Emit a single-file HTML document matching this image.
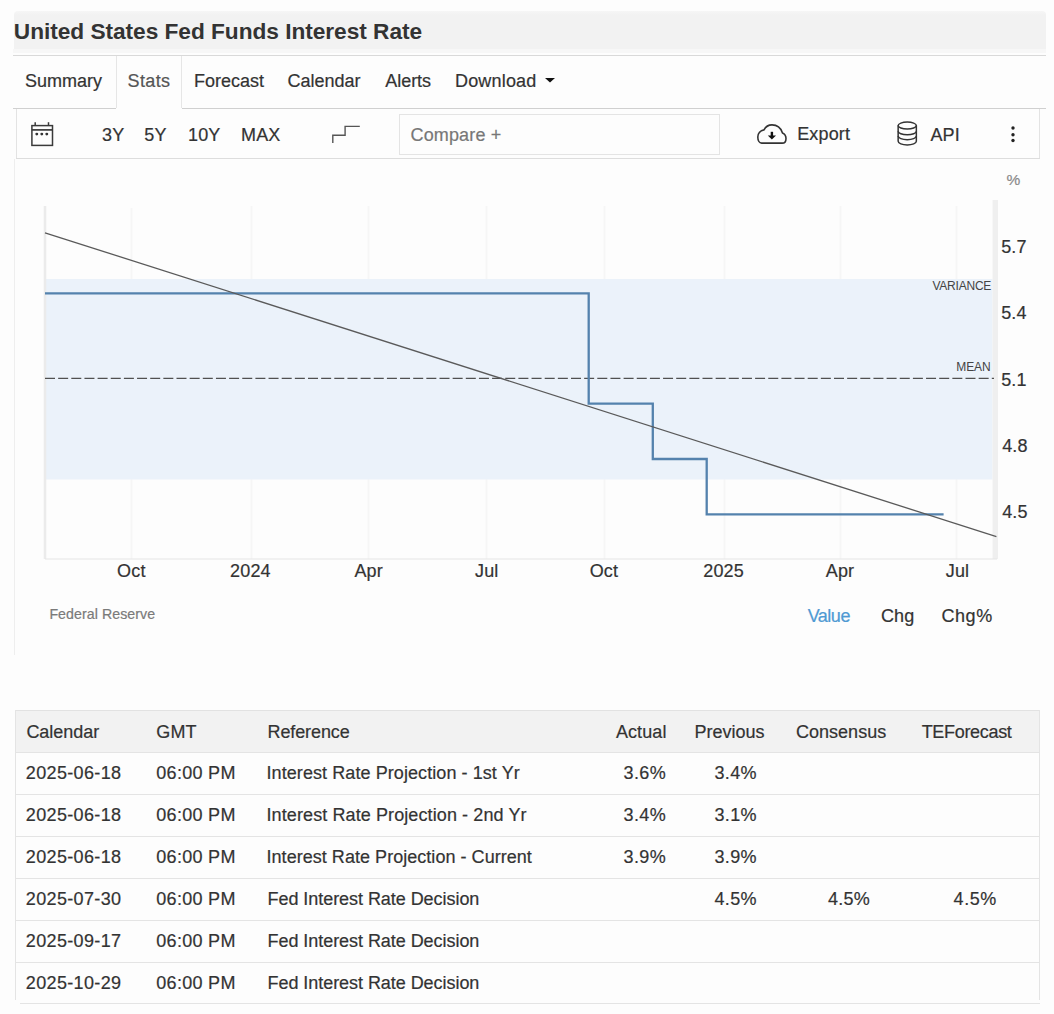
<!DOCTYPE html>
<html><head><meta charset="utf-8">
<style>
html,body{margin:0;padding:0;background:#fdfdfd;width:1054px;height:1014px;overflow:hidden;position:relative;font-family:"Liberation Sans",sans-serif;color:#333}
.a{position:absolute;white-space:nowrap;line-height:1;-webkit-text-stroke:0.2px currentColor}
.t{font-size:17.7px;color:#2b2b2b}
#titlebar{position:absolute;left:13.5px;top:10.5px;width:1032px;height:38.5px;background:linear-gradient(#f6f6f6,#f2f2f2 4px);border-radius:4px 4px 0 0}
#title{left:14px;top:22px;font-size:22.5px;font-weight:bold;color:#333}
.hl{position:absolute;height:1px;background:#dddddd}
.vl{position:absolute;width:1px;background:#e3e3e3}
</style></head><body>
<div id="titlebar"></div>
<div class="a" style="left:13px;top:49px;width:1033px;height:4px;background:#f7f7f7"></div>
<div class="hl" style="left:13px;top:55px;width:1033px;background:#d9d9d9"></div>

<!-- tabs -->
<svg class="a" style="left:544px;top:77px" width="12" height="6"><path d="M1 1 H11 L6 5.5 Z" fill="#111"/></svg>
<div class="vl" style="left:116px;top:56px;height:52px;background:#e6e6e6"></div>
<div class="vl" style="left:181px;top:56px;height:52px;background:#e6e6e6"></div>
<div class="hl" style="left:13px;top:108px;width:103px;background:#d0d0d0"></div>
<div class="hl" style="left:182px;top:108px;width:864px;background:#d0d0d0"></div>

<!-- toolbar -->
<div class="vl" style="left:16px;top:109px;height:50px"></div>
<div class="vl" style="left:1039px;top:109px;height:50px"></div>
<div class="hl" style="left:16px;top:158px;width:1024px"></div>
<svg class="a" style="left:28px;top:118px" width="30" height="32" viewBox="0 0 30 32">
 <rect x="3.9" y="7.6" width="20.6" height="19.8" fill="none" stroke="#3a3a3a" stroke-width="1.5"/>
 <line x1="3.9" y1="11.9" x2="24.5" y2="11.9" stroke="#3a3a3a" stroke-width="1.7"/>
 <line x1="7.2" y1="4.2" x2="7.2" y2="8" stroke="#3a3a3a" stroke-width="1.5"/>
 <line x1="20.5" y1="4.2" x2="20.5" y2="8" stroke="#3a3a3a" stroke-width="1.5"/>
 <circle cx="8.8" cy="16.1" r="1.45" fill="#333"/><circle cx="13.8" cy="16.1" r="1.45" fill="#333"/><circle cx="18.8" cy="16.1" r="1.45" fill="#333"/>
</svg>
<svg class="a" style="left:328px;top:122px" width="36" height="26"><path d="M4.8 21 V13.2 H17.1 V4.4 H31.8" fill="none" stroke="#555" stroke-width="1.4"/></svg>
<div class="a" style="left:399px;top:113.5px;width:321px;height:41px;border:1px solid #e4e4e4;box-sizing:border-box"></div>
<svg class="a" style="left:750px;top:118px" width="45" height="32" viewBox="0 0 45 32">
 <path d="M11.6 25.1 H32.2 C34.6 25.1 36 23 36 20.4 C36 17.9 34.6 15.8 32.5 14.9 C30.8 10 27 6.9 22 6.9 C18.6 6.9 15.6 8.8 14 11.9 C10.4 12.6 7.8 15.5 7.8 19 C7.8 22.4 9.4 25.1 11.6 25.1 Z" fill="none" stroke="#333" stroke-width="1.6"/>
 <line x1="21.9" y1="13.8" x2="21.9" y2="18.4" stroke="#111" stroke-width="2.4"/>
 <path d="M17.8 17.6 H26 L21.9 21.6 Z" fill="#111"/>
</svg>
<svg class="a" style="left:894px;top:119px" width="26" height="30" viewBox="0 0 26 30">
 <ellipse cx="13.25" cy="6.6" rx="9.1" ry="3.5" fill="none" stroke="#333" stroke-width="1.5"/>
 <path d="M4.15 6.6 V22.3 C4.15 24.3 8.2 25.9 13.25 25.9 C18.3 25.9 22.35 24.3 22.35 22.3 V6.6" fill="none" stroke="#333" stroke-width="1.5"/>
 <path d="M4.15 12.2 C4.15 14.2 8.2 15.8 13.25 15.8 C18.3 15.8 22.35 14.2 22.35 12.2" fill="none" stroke="#333" stroke-width="1.5"/>
 <path d="M4.15 17 C4.15 19 8.2 20.7 13.25 20.7 C18.3 20.7 22.35 19 22.35 17" fill="none" stroke="#333" stroke-width="1.5"/>
</svg>
<svg class="a" style="left:1008px;top:124px" width="10" height="20"><circle cx="5" cy="4" r="1.7" fill="#222"/><circle cx="5" cy="10.7" r="1.7" fill="#222"/><circle cx="5" cy="16.5" r="1.7" fill="#222"/></svg>

<!-- chart container left line -->
<div class="vl" style="left:14px;top:159px;height:496px;background:#eeeeee"></div>


<!-- chart -->
<svg class="a" style="left:0;top:0" width="1054" height="700">
 <g stroke="#f6f6f6" stroke-width="1.6">
  <line x1="131.5" y1="208" x2="131.5" y2="559"/>
  <line x1="251.5" y1="206" x2="251.5" y2="559"/>
  <line x1="368.5" y1="206" x2="368.5" y2="559"/>
  <line x1="486.5" y1="206" x2="486.5" y2="559"/>
  <line x1="604.5" y1="206" x2="604.5" y2="559"/>
  <line x1="724.5" y1="206" x2="724.5" y2="559"/>
  <line x1="840.5" y1="206" x2="840.5" y2="559"/>
  <line x1="956.5" y1="206" x2="956.5" y2="559"/>
 </g>
 <rect x="45" y="279" width="947.5" height="200.5" fill="#ebf2fa"/>
 <line x1="45" y1="206" x2="45" y2="559" stroke="#ebebeb" stroke-width="2.5"/>
 <line x1="995.3" y1="200" x2="995.3" y2="559" stroke="#efefef" stroke-width="5.5"/>
 <line x1="45" y1="559" x2="997" y2="559" stroke="#e6e6e6" stroke-width="1.2"/>
 <line x1="45" y1="378.3" x2="994" y2="378.3" stroke="#505050" stroke-width="1.2" stroke-dasharray="10 3.15"/>
 <path d="M45 293.4 H588.7 V403.6 H652.8 V459 H706.7 V514.3 H943.6" fill="none" stroke="#5482ad" stroke-width="2.3"/>
 <line x1="45" y1="232.8" x2="996.4" y2="536.6" stroke="#5a5a5a" stroke-width="1.3"/>
</svg>

<!-- table -->
<div class="a" style="left:15px;top:710px;width:1025px;height:42px;background:#f2f2f2"></div>
<div class="hl" style="left:15px;top:709.5px;width:1025px;background:#e2e2e2"></div>
<div class="hl" style="left:15px;top:752px;width:1025px;background:#e4e4e4"></div>
<div class="hl" style="left:15px;top:794px;width:1025px;background:#e4e4e4"></div>
<div class="hl" style="left:15px;top:836px;width:1025px;background:#e4e4e4"></div>
<div class="hl" style="left:15px;top:878px;width:1025px;background:#e4e4e4"></div>
<div class="hl" style="left:15px;top:920px;width:1025px;background:#e4e4e4"></div>
<div class="hl" style="left:15px;top:962px;width:1025px;background:#e4e4e4"></div>
<div class="hl" style="left:20px;top:1003px;width:1020px;background:#e4e4e4"></div>
<div class="vl" style="left:15px;top:710px;height:290px;background:#e4e4e4"></div>
<div class="vl" style="left:1039px;top:710px;height:290px;background:#e4e4e4"></div>

<div class="a" style="left:13.8px;top:20.1px;font-size:22.7px;color:#333;letter-spacing:-0.039px;font-weight:700;-webkit-text-stroke:0">United States Fed Funds Interest Rate</div>
<div class="a" style="left:25px;top:72px;font-size:18px;color:#333;letter-spacing:-0.017px">Summary</div>
<div class="a" style="left:127.5px;top:72px;font-size:18px;color:#555;letter-spacing:0.4px">Stats</div>
<div class="a" style="left:194px;top:72px;font-size:18px;color:#333;letter-spacing:0.007px">Forecast</div>
<div class="a" style="left:287.5px;top:72px;font-size:18px;color:#333;letter-spacing:0.007px">Calendar</div>
<div class="a" style="left:385.3px;top:72px;font-size:18px;color:#333;letter-spacing:-0.05px">Alerts</div>
<div class="a" style="left:455px;top:72px;font-size:18px;color:#333;letter-spacing:0.179px">Download</div>
<div class="a" style="left:102.1px;top:126px;font-size:18px;color:#333;letter-spacing:0.15px">3Y</div>
<div class="a" style="left:144.3px;top:126px;font-size:18px;color:#333;letter-spacing:0.15px">5Y</div>
<div class="a" style="left:188px;top:126px;font-size:18px;color:#333;letter-spacing:0.15px">10Y</div>
<div class="a" style="left:241px;top:126px;font-size:18px;color:#333;letter-spacing:0.15px">MAX</div>
<div class="a" style="left:410.5px;top:125.5px;font-size:18px;color:#777;letter-spacing:0.15px">Compare +</div>
<div class="a" style="left:797.2px;top:125.2px;font-size:18px;color:#333;letter-spacing:0.15px">Export</div>
<div class="a" style="left:930.4px;top:125.5px;font-size:18px;color:#333;letter-spacing:0.15px">API</div>
<div class="a" style="left:1001.2px;top:238.2px;font-size:18px;color:#333;letter-spacing:0.15px">5.7</div>
<div class="a" style="left:1001.2px;top:304.4px;font-size:18px;color:#333;letter-spacing:0.15px">5.4</div>
<div class="a" style="left:1001.2px;top:370.6px;font-size:18px;color:#333;letter-spacing:0.15px">5.1</div>
<div class="a" style="left:1002.2px;top:436.8px;font-size:18px;color:#333;letter-spacing:0.15px">4.8</div>
<div class="a" style="left:1002.2px;top:503.0px;font-size:18px;color:#333;letter-spacing:0.15px">4.5</div>
<div class="a" style="left:117.1px;top:561.7px;font-size:18px;color:#333;letter-spacing:0.15px">Oct</div>
<div class="a" style="left:230.1px;top:561.7px;font-size:18px;color:#333;letter-spacing:0.15px">2024</div>
<div class="a" style="left:354.4px;top:561.7px;font-size:18px;color:#333;letter-spacing:0.15px">Apr</div>
<div class="a" style="left:475.0px;top:561.7px;font-size:18px;color:#333;letter-spacing:0.15px">Jul</div>
<div class="a" style="left:589.7px;top:561.7px;font-size:18px;color:#333;letter-spacing:0.15px">Oct</div>
<div class="a" style="left:703.3px;top:561.7px;font-size:18px;color:#333;letter-spacing:0.15px">2025</div>
<div class="a" style="left:825.8px;top:561.7px;font-size:18px;color:#333;letter-spacing:0.15px">Apr</div>
<div class="a" style="left:945.8px;top:561.7px;font-size:18px;color:#333;letter-spacing:0.15px">Jul</div>
<div class="a" style="left:49.4px;top:607px;font-size:14.2px;color:#7a7a7a;letter-spacing:0.057px">Federal Reserve</div>
<div class="a" style="left:807.7px;top:606.6px;font-size:18px;color:#4f9ad3;letter-spacing:-0.5px">Value</div>
<div class="a" style="left:880.9px;top:606.6px;font-size:18px;color:#333;letter-spacing:0.15px">Chg</div>
<div class="a" style="left:941.4px;top:606.6px;font-size:18px;color:#333;letter-spacing:0.6px">Chg%</div>
<div class="a" style="left:932.4px;top:279.6px;font-size:12px;color:#444;letter-spacing:-0.214px;-webkit-text-stroke:0">VARIANCE</div>
<div class="a" style="left:956.3px;top:361.3px;font-size:12px;color:#444;letter-spacing:-0.1px;-webkit-text-stroke:0">MEAN</div>
<div class="a" style="left:1006.6px;top:171.7px;font-size:15.5px;color:#8a8a8a;letter-spacing:0px">%</div>
<div class="a" style="left:26.4px;top:722.5px;font-size:18px;color:#333;letter-spacing:-0.022px">Calendar</div>
<div class="a" style="left:156.3px;top:722.5px;font-size:18px;color:#333;letter-spacing:0.15px">GMT</div>
<div class="a" style="left:267.5px;top:722.5px;font-size:18px;color:#333;letter-spacing:-0.101px">Reference</div>
<div class="a" style="left:615.9px;top:722.5px;font-size:18px;color:#333;letter-spacing:0.11px">Actual</div>
<div class="a" style="left:694.6px;top:722.5px;font-size:18px;color:#333;letter-spacing:-0.022px">Previous</div>
<div class="a" style="left:795.9px;top:722.5px;font-size:18px;color:#333;letter-spacing:0.038px">Consensus</div>
<div class="a" style="left:921.7px;top:722.5px;font-size:18px;color:#333;letter-spacing:-0.317px">TEForecast</div>
<div class="a" style="left:25.8px;top:764.1px;font-size:18px;color:#333;letter-spacing:0.35px">2025-06-18</div>
<div class="a" style="left:156.3px;top:764.1px;font-size:18px;color:#333;letter-spacing:0.292px">06:00 PM</div>
<div class="a" style="left:266.5px;top:764.1px;font-size:18px;color:#333;letter-spacing:0.078px">Interest Rate Projection - 1st Yr</div>
<div class="a" style="left:623.5px;top:764.1px;font-size:18px;color:#333;letter-spacing:0.4px">3.6%</div>
<div class="a" style="left:714.4px;top:764.1px;font-size:18px;color:#333;letter-spacing:0.4px">3.4%</div>
<div class="a" style="left:25.8px;top:806.1px;font-size:18px;color:#333;letter-spacing:0.35px">2025-06-18</div>
<div class="a" style="left:156.3px;top:806.1px;font-size:18px;color:#333;letter-spacing:0.292px">06:00 PM</div>
<div class="a" style="left:266.5px;top:806.1px;font-size:18px;color:#333;letter-spacing:0.1px">Interest Rate Projection - 2nd Yr</div>
<div class="a" style="left:623.5px;top:806.1px;font-size:18px;color:#333;letter-spacing:0.4px">3.4%</div>
<div class="a" style="left:714.4px;top:806.1px;font-size:18px;color:#333;letter-spacing:0.4px">3.1%</div>
<div class="a" style="left:25.8px;top:848.1px;font-size:18px;color:#333;letter-spacing:0.35px">2025-06-18</div>
<div class="a" style="left:156.3px;top:848.1px;font-size:18px;color:#333;letter-spacing:0.292px">06:00 PM</div>
<div class="a" style="left:266.5px;top:848.1px;font-size:18px;color:#333;letter-spacing:0.038px">Interest Rate Projection - Current</div>
<div class="a" style="left:623.5px;top:848.1px;font-size:18px;color:#333;letter-spacing:0.4px">3.9%</div>
<div class="a" style="left:714.4px;top:848.1px;font-size:18px;color:#333;letter-spacing:0.4px">3.9%</div>
<div class="a" style="left:25.8px;top:890.1px;font-size:18px;color:#333;letter-spacing:0.35px">2025-07-30</div>
<div class="a" style="left:156.3px;top:890.1px;font-size:18px;color:#333;letter-spacing:0.292px">06:00 PM</div>
<div class="a" style="left:267.5px;top:890.1px;font-size:18px;color:#333;letter-spacing:-0.05px">Fed Interest Rate Decision</div>
<div class="a" style="left:714.4px;top:890.1px;font-size:18px;color:#333;letter-spacing:0.4px">4.5%</div>
<div class="a" style="left:828px;top:890.1px;font-size:18px;color:#333;letter-spacing:0.283px">4.5%</div>
<div class="a" style="left:953.6px;top:890.1px;font-size:18px;color:#333;letter-spacing:0.55px">4.5%</div>
<div class="a" style="left:25.8px;top:932.1px;font-size:18px;color:#333;letter-spacing:0.35px">2025-09-17</div>
<div class="a" style="left:156.3px;top:932.1px;font-size:18px;color:#333;letter-spacing:0.292px">06:00 PM</div>
<div class="a" style="left:267.5px;top:932.1px;font-size:18px;color:#333;letter-spacing:-0.05px">Fed Interest Rate Decision</div>
<div class="a" style="left:25.8px;top:974.1px;font-size:18px;color:#333;letter-spacing:0.35px">2025-10-29</div>
<div class="a" style="left:156.3px;top:974.1px;font-size:18px;color:#333;letter-spacing:0.292px">06:00 PM</div>
<div class="a" style="left:267.5px;top:974.1px;font-size:18px;color:#333;letter-spacing:-0.05px">Fed Interest Rate Decision</div>
</body></html>
